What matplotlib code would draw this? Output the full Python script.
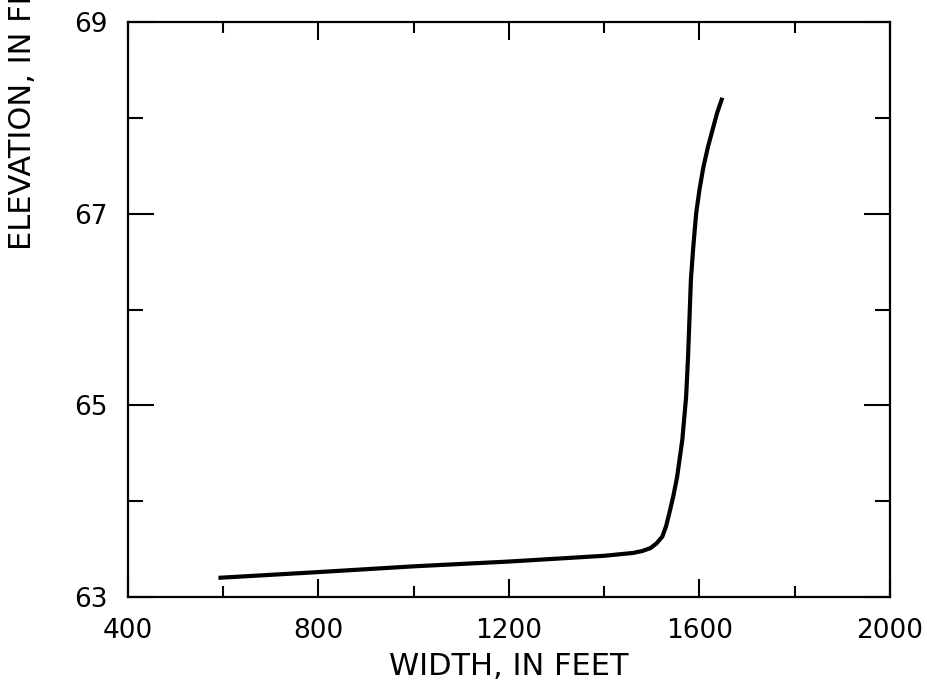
import matplotlib
matplotlib.use("Agg")
import matplotlib.pyplot as plt
from matplotlib.ticker import MultipleLocator

plt.rcParams['font.family'] = ['DejaVu Sans']

# width / elevation curve
width_ft = [590, 800, 1000, 1200, 1400, 1461, 1480, 1497, 1510, 1522, 1530,
            1537, 1545, 1553, 1564, 1572, 1576, 1579, 1582, 1587, 1593, 1600,
            1608, 1618, 1637, 1648]
elev_ft = [63.20, 63.26, 63.32, 63.37, 63.43, 63.46, 63.48, 63.51, 63.56, 63.63, 63.74,
           63.88, 64.05, 64.25, 64.64, 65.09, 65.50, 65.90, 66.31, 66.65, 67.00, 67.25,
           67.48, 67.70, 68.05, 68.21]

x_major = [400, 800, 1200, 1600, 2000]
y_major = [63, 65, 67, 69]

fig = plt.figure(figsize=(9.28, 6.84), dpi=100)
ax = fig.add_axes([0.1379, 0.1272, 0.8211, 0.8406])

ax.plot(width_ft, elev_ft, color='black', linewidth=3.0,
        solid_capstyle='butt', solid_joinstyle='round')

ax.set_xlim(400, 2000)
ax.set_ylim(63, 69)
ax.set_xticks(x_major)
ax.set_yticks(y_major)
ax.xaxis.set_minor_locator(MultipleLocator(200))
ax.yaxis.set_minor_locator(MultipleLocator(1))

for s in ax.spines.values():
    s.set_linewidth(1.6)

ax.tick_params(axis='both', which='both', direction='in', top=True, right=True,
               width=1.5, labelsize=19, pad=15)
ax.tick_params(axis='x', which='major', length=13)
ax.tick_params(axis='x', which='minor', length=8)
ax.tick_params(axis='y', which='major', length=19)
ax.tick_params(axis='y', which='minor', length=11)

ax.set_xlabel("WIDTH, IN FEET", fontsize=22, labelpad=6)
fig.text(23 / 928, 1 - 250 / 684, "ELEVATION, IN FEET", rotation=90,
         ha='center', va='bottom', fontsize=22)

fig.savefig("out.png", dpi=100)
